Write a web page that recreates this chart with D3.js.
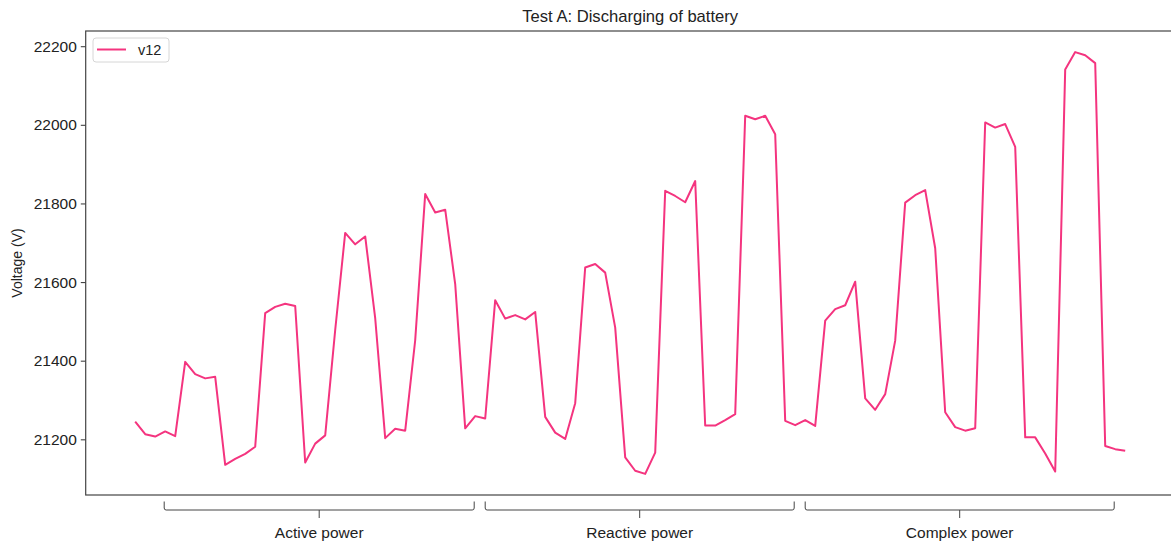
<!DOCTYPE html>
<html>
<head>
<meta charset="utf-8">
<script src="https://cdn.jsdelivr.net/npm/d3@7"></script>
<style>
  body { margin: 0; background: #fff; }
  svg text { font-family: "Liberation Sans", Arial, sans-serif; fill: #222; }
</style>
</head>
<body>
<div id="chart"></div>
<script>
// 데이터
const seriesName = "v12";
const v12 = [
  21245, 21213, 21207, 21220, 21208, 21397, 21366, 21355, 21359, 21135,
  21150, 21163, 21181, 21521, 21537, 21545, 21539, 21141, 21189, 21210,
  21478, 21725, 21696, 21716, 21508, 21203, 21227, 21222, 21452, 21824,
  21777, 21784, 21595, 21228, 21259, 21253, 21554, 21507, 21516, 21505,
  21524, 21257, 21217, 21201, 21292, 21637, 21646, 21624, 21484, 21154,
  21120, 21112, 21166, 21832, 21819, 21803, 21857, 21235, 21235, 21249,
  21264, 22023, 22014, 22023, 21976, 21247, 21236, 21249, 21234, 21502,
  21531, 21541, 21601, 21304, 21275, 21315, 21451, 21802, 21821, 21834,
  21686, 21269, 21231, 21222, 21228, 22006, 21993, 22002, 21944, 21205,
  21205, 21164, 21118, 22141, 22185, 22177, 22157, 21183, 21175, 21171
];
const yTicks = [21200, 21400, 21600, 21800, 22000, 22200];
const groupLabels = ["Active power", "Reactive power", "Complex power"];
const groupRanges = [[2.9, 33.9], [35, 65.9], [67, 97.9]];

function drawChart() {
    const width = 1171, height = 545;
    const left = 85.7, right = 1174.7, top = 31, bottom = 495;

    const svg = d3.select("#chart").append("svg")
        .attr("width", width)
        .attr("height", height);

    // matplotlib 기본 여백 5%
    const n = v12.length;
    const xPad = (n - 1) * 0.05;
    const x = d3.scaleLinear().domain([-xPad, n - 1 + xPad]).range([left, right]);
    const yMin = d3.min(v12), yMax = d3.max(v12);
    const yPad = (yMax - yMin) * 0.05;
    const y = d3.scaleLinear().domain([yMin - yPad, yMax + yPad]).range([bottom, top]);

    // 선
    const line = d3.line().x((d, i) => x(i)).y(d => y(d));
    svg.append("path")
        .datum(v12)
        .attr("fill", "none")
        .attr("stroke", "#f4347f")
        .attr("stroke-width", 2)
        .attr("stroke-linejoin", "round")
        .attr("d", line);

    // 테두리
    svg.append("rect")
        .attr("x", left).attr("y", top)
        .attr("width", right - left).attr("height", bottom - top)
        .attr("fill", "none")
        .attr("stroke", "#444")
        .attr("stroke-width", 1.2);

    // y축
    const yAxis = d3.axisLeft(y).tickValues(yTicks).tickFormat(d3.format("d")).tickSize(4.9).tickPadding(4);
    const gy = svg.append("g").attr("transform", `translate(${left},0)`).call(yAxis);
    gy.select(".domain").remove();
    gy.selectAll(".tick line").attr("stroke", "#444").attr("stroke-width", 1.1);
    gy.selectAll(".tick text")
        .attr("font-size", 15.5)
        .attr("font-family", "Liberation Sans, Arial, sans-serif")
        .attr("fill", "#222");

    svg.append("text")
        .attr("transform", `translate(22,${(top + bottom) / 2}) rotate(-90)`)
        .attr("text-anchor", "middle")
        .attr("font-size", 14)
        .text("Voltage (V)");

    // 제목
    svg.append("text")
        .attr("x", (left + right) / 2)
        .attr("y", 22)
        .attr("text-anchor", "middle")
        .attr("font-size", 16.6)
        .text("Test A: Discharging of battery");

    // 구간 괄호
    const braces = svg.append("g");
    groupRanges.forEach((r, i) => {
        const x0 = x(r[0]), x1 = x(r[1]), xm = (x0 + x1) / 2;
        const y0 = 501.5, y1 = 510, y2 = 518;
        braces.append("path")
            .attr("d", `M${x0},${y0} L${x0},${y1 - 2} Q${x0},${y1} ${x0 + 2},${y1} L${x1 - 2},${y1} Q${x1},${y1} ${x1},${y1 - 2} L${x1},${y0} M${xm},${y1} L${xm},${y2}`)
            .attr("fill", "none")
            .attr("stroke", "#444")
            .attr("stroke-width", 1);
        braces.append("text")
            .attr("x", xm)
            .attr("y", 537.5)
            .attr("text-anchor", "middle")
            .attr("font-size", 15.5)
            .text(groupLabels[i]);
    });

    // 범례
    const legend = svg.append("g").attr("transform", "translate(93,38)");
    legend.append("rect")
        .attr("width", 76).attr("height", 24)
        .attr("rx", 3)
        .attr("fill", "#fff")
        .attr("stroke", "#d6d6d6");
    legend.append("line")
        .attr("x1", 4).attr("x2", 33)
        .attr("y1", 11.5).attr("y2", 11.5)
        .attr("stroke", "#f4347f")
        .attr("stroke-width", 2);
    legend.append("text")
        .attr("x", 45).attr("y", 17)
        .attr("font-size", 14.5)
        .text(seriesName);
}

document.addEventListener('DOMContentLoaded', () => {
    drawChart();
});
</script>
</body>
</html>
